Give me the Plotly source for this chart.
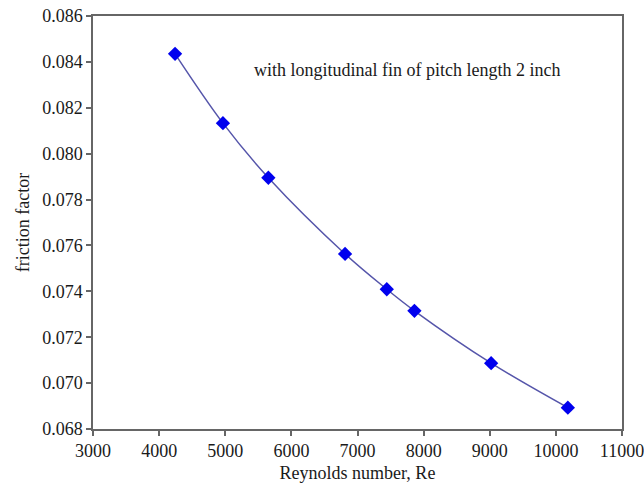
import plotly.graph_objects as go

reynolds = [4241, 4965, 5652, 6812, 7443, 7861, 9021, 10181]
friction = [0.08435, 0.08133, 0.07895, 0.07563, 0.07409, 0.07315, 0.07087, 0.06893]

x_ticks = [3000, 4000, 5000, 6000, 7000, 8000, 9000, 10000, 11000]
y_ticks = [0.068, 0.070, 0.072, 0.074, 0.076, 0.078, 0.080, 0.082, 0.084, 0.086]

font_family = "Liberation Serif"

fig = go.Figure()
fig.add_trace(go.Scatter(
    x=reynolds, y=friction,
    mode="lines+markers",
    line=dict(shape="spline", color="#5555aa", width=1.5),
    marker=dict(symbol="diamond", size=11, color="#0000ee", line=dict(width=0)),
    showlegend=False,
))

axis_common = dict(
    showline=True, linecolor="#666666", linewidth=1.5, mirror=True,
    showgrid=False, zeroline=False, automargin=False,
    ticks="outside", ticklen=5, tickcolor="#666666", tickwidth=1.5,
    ticklabeloverflow="allow",
    tickfont=dict(family=font_family, size=18, color="#1a1a1a"),
)

fig.update_layout(
    width=644, height=487,
    margin=dict(l=93, r=22, t=16, b=58),
    paper_bgcolor="white", plot_bgcolor="white",
    font=dict(family=font_family),
    xaxis=dict(range=[3000, 11000], tickvals=x_ticks,
               ticktext=[str(v) for v in x_ticks],
               title=dict(text="Reynolds number, Re", standoff=6,
                          font=dict(family=font_family, size=18, color="#1a1a1a")),
               **axis_common),
    yaxis=dict(range=[0.068, 0.086], tickvals=y_ticks,
               ticktext=[f"{v:.3f}" for v in y_ticks],
               title=dict(text="friction factor", standoff=8,
                          font=dict(family=font_family, size=18, color="#1a1a1a")),
               **axis_common),
    annotations=[dict(
        x=5405, y=0.08365, xref="x", yref="y", xanchor="left", yanchor="middle",
        text="with longitudinal fin of pitch length 2 inch", showarrow=False,
        font=dict(family=font_family, size=18, color="#1a1a1a"),
    )],
)

fig.write_html(
    "out.html",
    config={"displayModeBar": False},
    post_script="document.body.style.margin='0';document.body.style.padding='0';document.body.style.overflow='hidden';",
)
